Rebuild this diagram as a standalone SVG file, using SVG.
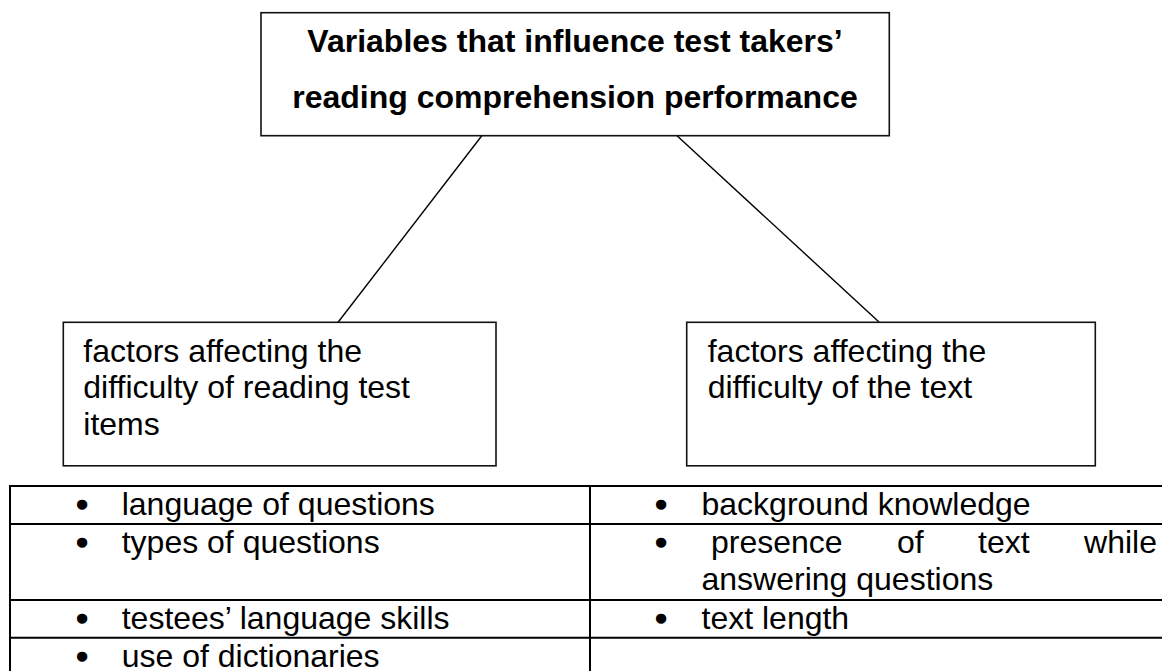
<svg xmlns="http://www.w3.org/2000/svg" width="1162" height="671" viewBox="0 0 1162 671">
  <style>
    .box { fill: #ffffff; stroke: #111111; stroke-width: 1.6; }
    .title { font-family: "Liberation Sans", Arial, sans-serif; font-size: 32px; font-weight: bold; fill: #000000; }
    .body { font-family: "Liberation Sans", Arial, sans-serif; font-size: 32px; fill: #000000; }
    .bullet { font-family: "Liberation Sans", Arial, sans-serif; font-size: 32px; fill: #000000; stroke: #000000; stroke-width: 1.6; text-anchor: middle; }
    .conn { stroke: #000000; stroke-width: 1.4; fill: none; }
    .rule { stroke: #000000; stroke-width: 2; fill: none; }
  </style>

  <rect width="1162" height="671" fill="#ffffff"/>

  <!-- connectors from the root to the two factor boxes -->
  <g id="connectors">
    <line class="conn" x1="482" y1="135.5" x2="337.5" y2="323"/>
    <line class="conn" x1="673.5" y1="132.5" x2="879" y2="322"/>
  </g>

  <!-- root box -->
  <g id="node-variables">
    <rect class="box" x="261" y="12.7" width="628.3" height="123"/>
    <text class="title" x="575" y="52" text-anchor="middle">Variables that influence test takers’</text>
    <text class="title" x="575" y="107.5" text-anchor="middle">reading comprehension performance</text>
  </g>

  <!-- left branch -->
  <g id="node-test-items">
    <rect class="box" x="63.3" y="322.3" width="432.7" height="143.5"/>
    <text class="body" x="83.3" y="361.7">factors affecting the</text>
    <text class="body" x="83.3" y="398.3">difficulty of reading test</text>
    <text class="body" x="83.3" y="434.8">items</text>
  </g>

  <!-- right branch -->
  <g id="node-text">
    <rect class="box" x="686.7" y="322.3" width="408.6" height="143.5"/>
    <text class="body" x="707.7" y="361.7">factors affecting the</text>
    <text class="body" x="707.7" y="398.3">difficulty of the text</text>
  </g>

  <!-- factor table -->
  <g id="factor-table">
    <line class="rule" x1="10" y1="486" x2="1170" y2="486"/>
    <line class="rule" x1="10" y1="524" x2="1170" y2="524"/>
    <line class="rule" x1="10" y1="600" x2="1170" y2="600"/>
    <line class="rule" x1="10" y1="637.7" x2="1170" y2="637.7"/>
    <line class="rule" x1="10" y1="485" x2="10" y2="680"/>
    <line class="rule" x1="590" y1="485" x2="590" y2="680"/>

    <text class="bullet" x="82" y="515">•</text>
    <text class="body" x="121.7" y="515">language of questions</text>
    <text class="bullet" x="82" y="553">•</text>
    <text class="body" x="121.7" y="553">types of questions</text>
    <text class="bullet" x="82" y="629">•</text>
    <text class="body" x="121.7" y="629">testees’ language skills</text>
    <text class="bullet" x="82" y="666.5">•</text>
    <text class="body" x="121.7" y="666.5">use of dictionaries</text>

    <text class="bullet" x="661" y="515">•</text>
    <text class="body" x="701.5" y="515">background knowledge</text>
    <text class="bullet" x="661" y="553">•</text>
    <text class="body" x="711" y="553" word-spacing="45.5">presence of text while</text>
    <text class="body" x="701.5" y="590">answering questions</text>
    <text class="bullet" x="661" y="629">•</text>
    <text class="body" x="701.5" y="629">text length</text>
  </g>
</svg>
